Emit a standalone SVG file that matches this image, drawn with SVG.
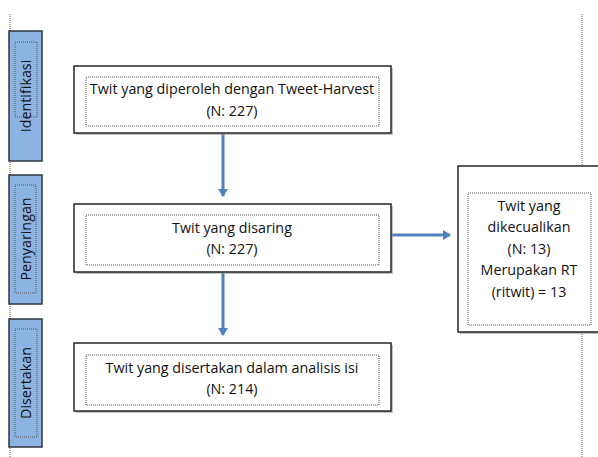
<svg xmlns="http://www.w3.org/2000/svg" width="598" height="457" viewBox="0 0 598 457">
<defs>
<style>
.bar{fill:#8db3e2;stroke:#2f3640;stroke-width:1.5}
.box{fill:#fff;stroke:#262626;stroke-width:1.5}
.shadow{fill:#9a9a9a;opacity:0.6}
.dot{fill:none;stroke:#555;stroke-width:1;stroke-dasharray:1 1}
.guide{fill:none;stroke:#666;stroke-width:1;stroke-dasharray:1 1}
.t{font-family:"Open Sans","Liberation Sans",sans-serif;font-size:14.3px;fill:#111;text-anchor:middle}
.conn{stroke:#4f81bd;stroke-width:3;fill:none}
</style>
<marker id="ah" markerWidth="10" markerHeight="10" refX="7" refY="5" orient="auto" markerUnits="userSpaceOnUse">
<path d="M0,0 L8,5 L0,10 Z" fill="#4f81bd"/>
</marker>
</defs>
<rect width="598" height="457" fill="#fff"/>
<line class="guide" x1="10" y1="14" x2="10" y2="457"/>
<line class="guide" x1="582" y1="14" x2="582" y2="457"/>
<g id="stage-identifikasi">
<rect class="bar" x="9" y="31" width="33" height="130"/>
<rect class="dot" x="15" y="42" width="22" height="75"/>
<text class="t" transform="translate(26,96) rotate(-90)" dy="0.35em">Identifikasi</text>
</g>
<g id="stage-penyaringan">
<rect class="bar" x="9" y="175" width="33" height="129"/>
<rect class="dot" x="15" y="185" width="21" height="108"/>
<text class="t" transform="translate(26,239) rotate(-90)" dy="0.35em">Penyaringan</text>
</g>
<g id="stage-disertakan">
<rect class="bar" x="9" y="319" width="33" height="128"/>
<rect class="dot" x="15" y="329" width="22" height="108"/>
<text class="t" transform="translate(26,383) rotate(-90)" dy="0.35em">Disertakan</text>
</g>
<g id="connectors">
<line class="conn" x1="223" y1="134" x2="223" y2="196" marker-end="url(#ah)"/>
<line class="conn" x1="223" y1="273" x2="223" y2="335" marker-end="url(#ah)"/>
<line class="conn" x1="392" y1="235" x2="450" y2="235" marker-end="url(#ah)"/>
</g>
<g id="node-harvest">
<rect class="shadow" x="76" y="68" width="317" height="67"/>
<rect class="box" x="74" y="66" width="317" height="67"/>
<rect class="dot" x="86" y="77" width="293" height="49"/>
<text class="t" x="232" y="94">Twit yang diperoleh dengan Tweet-Harvest</text>
<text class="t" x="232" y="116">(N: 227)</text>
</g>
<g id="node-disaring">
<rect class="shadow" x="76" y="206" width="317" height="68"/>
<rect class="box" x="74" y="204" width="317" height="68"/>
<rect class="dot" x="86" y="215" width="293" height="50"/>
<text class="t" x="232" y="233">Twit yang disaring</text>
<text class="t" x="232" y="254">(N: 227)</text>
</g>
<g id="node-disertakan">
<rect class="shadow" x="76" y="345" width="317" height="68"/>
<rect class="box" x="74" y="343" width="317" height="68"/>
<rect class="dot" x="86" y="355" width="293" height="50"/>
<text class="t" x="232" y="373">Twit yang disertakan dalam analisis isi</text>
<text class="t" x="232" y="394">(N: 214)</text>
</g>
<g id="node-dikecualikan">
<rect class="shadow" x="460" y="168" width="140" height="166"/>
<rect class="box" x="458" y="166" width="145" height="166"/>
<rect class="dot" x="468" y="193" width="123" height="132"/>
<text class="t" x="529" y="211">Twit yang</text>
<text class="t" x="529" y="232">dikecualikan</text>
<text class="t" x="529" y="254">(N: 13)</text>
<text class="t" x="529" y="275">Merupakan RT</text>
<text class="t" x="529" y="297">(ritwit) = 13</text>
</g>
</svg>
